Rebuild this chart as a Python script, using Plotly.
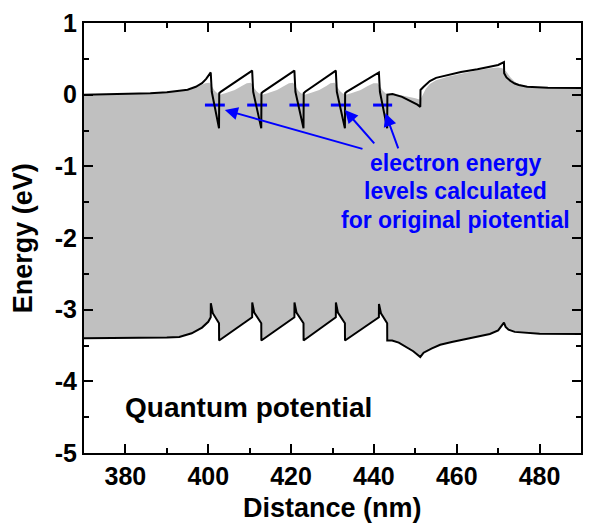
import plotly.graph_objects as go

# ---------------- data ----------------
# original conduction band (black upper line)
cb_x = [370, 380, 386, 390, 393, 395, 397, 398.5, 399.5, 400.6, 400.85, 402.6, 402.65, 403.0,
        410.6, 410.85, 412.8, 412.85, 413.2,
        420.8, 421.05, 423.0, 423.05, 423.4,
        430.8, 431.05, 433.0, 433.05, 433.4,
        441.2, 441.45, 443.2, 443.25, 444.5, 446.8, 449.0, 450.5, 451.2, 451.25,
        452.0, 452.5, 453.5, 455.0, 458.0, 461.0, 465.0, 468.0, 470.0, 471.4, 471.45,
        472.0, 473.0, 474.0, 475.0, 477.0, 479.0, 482.0, 490.0]
cb_y = [0.0, 0.01, 0.02, 0.035, 0.05, 0.07, 0.11, 0.16, 0.22, 0.31, 0.04, -0.47, 0.02, 0.04,
        0.335, 0.04, -0.47, 0.02, 0.04,
        0.335, 0.04, -0.47, 0.02, 0.04,
        0.335, 0.04, -0.47, 0.02, 0.04,
        0.31, 0.04, -0.47, 0.0, 0.01, -0.03, -0.09, -0.14, -0.17, 0.066,
        0.11, 0.14, 0.19, 0.235, 0.28, 0.315, 0.355, 0.385, 0.415, 0.456, 0.30,
        0.24, 0.19, 0.155, 0.135, 0.11, 0.10, 0.095, 0.094]

# original valence band (black lower line)
vb_x = [370, 380, 386, 390, 393, 396, 398.5, 400.0, 400.6, 400.62, 401.1, 402.6, 402.62,
        410.6, 410.62, 411.1, 412.8, 412.82,
        420.8, 420.82, 421.3, 423.0, 423.02,
        430.8, 430.82, 431.3, 433.0, 433.02,
        441.2, 441.22, 441.7, 443.2, 443.22, 444.4, 446.0, 447.6, 449.5, 451.2,
        452.0, 454.0, 456.0, 458.8, 462.0, 465.2, 468.0, 470.0, 471.0, 471.4,
        471.8, 472.5, 474.0, 476.0, 480.0, 490.0]
vb_y = [-3.40, -3.40, -3.395, -3.39, -3.38, -3.33, -3.25, -3.17, -3.106, -2.91, -3.05, -3.19, -3.43,
        -3.106, -2.90, -3.04, -3.19, -3.43,
        -3.106, -2.90, -3.04, -3.19, -3.43,
        -3.106, -2.90, -3.04, -3.19, -3.43,
        -3.106, -2.92, -3.05, -3.19, -3.43, -3.43, -3.46, -3.52, -3.58, -3.66,
        -3.60, -3.54, -3.49, -3.45, -3.41, -3.377, -3.34, -3.29, -3.22, -3.18,
        -3.24, -3.28, -3.31, -3.32, -3.335, -3.34]

# quantum potential, upper edge of the grey region
qp_top_x = [370, 380, 386, 390, 393, 395, 397, 398.5, 399.3, 400.3, 401.0, 401.6, 402.2, 402.8,
            404.1, 406.4, 408.1, 409.3, 410.3, 411.0, 411.6, 412.2, 413.0,
            414.3, 416.6, 418.3, 419.5, 420.5, 421.2, 421.8, 422.4, 423.2,
            424.5, 426.8, 428.5, 429.5, 430.5, 431.2, 431.8, 432.4, 433.2,
            434.5, 436.8, 438.5, 439.9, 440.9, 441.6, 442.2, 442.8, 443.4,
            446.0, 448.0, 450.0, 451.2, 451.8, 452.5, 453.5, 455.0, 458.0, 461.0,
            465.0, 468.0, 470.0, 471.0, 472.0, 473.0, 474.0, 475.0, 477.0, 479.0, 482.0, 490.0]
qp_top_y = [-0.005, 0.005, 0.015, 0.03, 0.045, 0.065, 0.10, 0.14, 0.16, 0.165, 0.10, 0.05, 0.02, 0.0,
            0.02, 0.066, 0.12, 0.16, 0.165, 0.10, 0.05, 0.02, 0.0,
            0.02, 0.066, 0.12, 0.16, 0.165, 0.10, 0.05, 0.02, 0.0,
            0.02, 0.066, 0.12, 0.16, 0.165, 0.10, 0.05, 0.02, 0.0,
            0.02, 0.066, 0.12, 0.16, 0.16, 0.10, 0.05, 0.02, 0.0,
            0.0, -0.02, -0.05, -0.07, 0.0, 0.08, 0.15, 0.20, 0.255, 0.295,
            0.34, 0.37, 0.38, 0.37, 0.32, 0.24, 0.18, 0.145, 0.115, 0.10, 0.095, 0.094]

# quantum potential, lower edge of the grey region (follows the valence band)
qp_bot_x = vb_x
qp_bot_y = vb_y

# electron energy levels calculated for the original potential
level_x_start = [399.2, 409.4, 419.6, 429.6, 439.8]
level_x_end = [404.0, 414.2, 424.4, 434.4, 444.4]
level_energy = [-0.145, -0.145, -0.145, -0.145, -0.145]

# arrows: head (x, y) and tail (x, y)
arrow_head_x = [404.0, 433.0, 442.8]
arrow_head_y = [-0.213, -0.213, -0.26]
arrow_tail_x = [437.6, 440.4, 446.0]
arrow_tail_y = [-0.762, -0.70, -0.77]

label_lines = ["electron energy", "levels calculated", "for original piotential"]
label_y = [-0.958, -1.347, -1.744]
label_x = 459.7

x_ticks = [380, 400, 420, 440, 460, 480]
y_ticks = [1, 0, -1, -2, -3, -4, -5]

# ---------------- figure ----------------
FONT = "Liberation Sans"
BLUE = "#0000FF"

fig = go.Figure()

fill_x = list(qp_top_x) + list(reversed(qp_bot_x))
fill_y = list(qp_top_y) + list(reversed(qp_bot_y))
fig.add_trace(go.Scatter(x=fill_x, y=fill_y, mode="lines", fill="toself",
                         fillcolor="#C0C0C0", line=dict(width=0, color="#C0C0C0"),
                         hoverinfo="skip", showlegend=False))

lx, ly = [], []
for a, b, e in zip(level_x_start, level_x_end, level_energy):
    lx += [a, b, None]
    ly += [e, e, None]
fig.add_trace(go.Scatter(x=lx, y=ly, mode="lines", line=dict(color=BLUE, width=3),
                         showlegend=False))

fig.add_trace(go.Scatter(x=cb_x, y=cb_y, mode="lines", line=dict(color="black", width=2),
                         showlegend=False))
fig.add_trace(go.Scatter(x=vb_x, y=vb_y, mode="lines", line=dict(color="black", width=2),
                         showlegend=False))

for hx, hy, tx, ty in zip(arrow_head_x, arrow_head_y, arrow_tail_x, arrow_tail_y):
    fig.add_annotation(x=hx, y=hy, ax=tx, ay=ty, xref="x", yref="y", axref="x", ayref="y",
                       text="", showarrow=True, arrowhead=2, arrowsize=1.3, arrowwidth=2,
                       arrowcolor=BLUE)

for t, yy in zip(label_lines, label_y):
    fig.add_annotation(x=label_x, y=yy, xref="x", yref="y", text=t, showarrow=False,
                       xanchor="center", yanchor="middle",
                       font=dict(family=FONT, size=23, color=BLUE, weight="bold"))

fig.add_annotation(x=409.6, y=-4.37, xref="x", yref="y", text="Quantum potential",
                   showarrow=False, xanchor="center", yanchor="middle",
                   font=dict(family=FONT, size=28, color="black", weight="bold"))

# axis titles
fig.add_annotation(x=0.5, y=-0.128, xref="paper", yref="paper", text="Distance (nm)",
                   showarrow=False, xanchor="center", yanchor="middle",
                   font=dict(family=FONT, size=27, color="black", weight="bold"))
fig.add_annotation(x=-0.122, y=0.5, xref="paper", yref="paper", text="Energy (eV)",
                   showarrow=False, xanchor="center", yanchor="middle", textangle=-90,
                   font=dict(family=FONT, size=27, color="black", weight="bold"))

axis_common = dict(showgrid=False, zeroline=False, showline=True, linecolor="black",
                   linewidth=2, mirror="ticks", ticks="inside", ticklen=9, tickwidth=2,
                   tickcolor="black",
                   tickfont=dict(family=FONT, size=25, color="black", weight="bold"))

fig.update_xaxes(range=[370, 490], tickmode="array", tickvals=x_ticks,
                 ticktext=[str(v) for v in x_ticks],
                 minor=dict(dtick=10, tick0=370, ticks="inside", ticklen=5, tickwidth=2,
                            tickcolor="black"),
                 **axis_common)
fig.update_yaxes(range=[-5, 1], tickmode="array", tickvals=y_ticks,
                 ticktext=[str(v) for v in y_ticks],
                 minor=dict(dtick=0.5, tick0=0, ticks="inside", ticklen=5, tickwidth=2,
                            tickcolor="black"),
                 **axis_common)

fig.update_layout(width=590, height=525, margin=dict(l=84, r=7, t=23, b=72),
                  plot_bgcolor="white", paper_bgcolor="white", showlegend=False)

fig.write_html("out.html")
